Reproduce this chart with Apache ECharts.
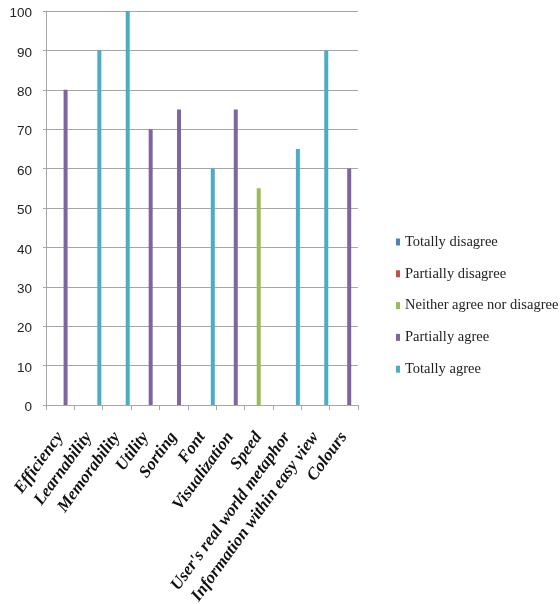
<!DOCTYPE html>
<html>
<head>
<meta charset="utf-8">
<script src="https://cdn.jsdelivr.net/npm/echarts@6/dist/echarts.min.js"></script>
<style>
html,body{margin:0;padding:0;background:#fff;}
#chart{width:560px;height:604px;}
</style>
</head>
<body>
<div id="chart"></div>
<script>
const categories = ["Efficiency", "Learnability", "Memorability", "Utility", "Sorting", "Font", "Visualization", "Speed", "User's real world metaphor", "Information within easy view", "Colours"];
const seriesNames = ["Totally disagree", "Partially disagree", "Neither agree nor disagree", "Partially agree", "Totally agree"];
const totallyDisagree   = [0, 0, 0, 0, 0, 0, 0, 0, 0, 0, 0];
const partiallyDisagree = [0, 0, 0, 0, 0, 0, 0, 0, 0, 0, 0];
const neitherAgree      = [0, 0, 0, 0, 0, 0, 0, 55, 0, 0, 0];
const partiallyAgree    = [80, 0, 0, 70, 75, 0, 75, 0, 0, 0, 60];
const totallyAgree      = [0, 90, 100, 0, 0, 60, 0, 0, 65, 90, 0];
const yTicks = [0, 10, 20, 30, 40, 50, 60, 70, 80, 90, 100];

const colors = ["#4F81BD", "#C0504D", "#9BBB59", "#8064A2", "#4BACC6"];
const allData = [totallyDisagree, partiallyDisagree, neitherAgree, partiallyAgree, totallyAgree];

const chart = echarts.init(document.getElementById('chart'), null, {renderer: 'canvas'});
chart.setOption({
  animation: false,
  backgroundColor: '#ffffff',
  color: colors,
  grid: {left: 46, right: 202, top: 11, bottom: 199, containLabel: false, outerBoundsMode: 'none'},
  legend: {
    orient: 'vertical',
    left: 391,
    top: 229,
    itemWidth: 4,
    itemHeight: 7,
    itemGap: 15.8,
    itemTextGap: 6,
    icon: 'rect',
    textStyle: {fontFamily: 'Liberation Serif', fontSize: 14.5, color: '#222', lineHeight: 16},
    data: seriesNames
  },
  xAxis: {
    type: 'category',
    data: categories,
    axisLine: {show: true, lineStyle: {color: '#A6A6A6', width: 1}},
    axisTick: {show: true, length: 5, inside: false, lineStyle: {color: '#A6A6A6'}},
    axisLabel: {
      rotate: 54,
      interval: 0,
      margin: 29,
      fontFamily: 'Liberation Serif',
      fontWeight: 'bold',
      fontStyle: 'italic',
      fontSize: 17,
      color: '#111'
    },
    splitLine: {show: false}
  },
  yAxis: {
    type: 'value',
    min: yTicks[0],
    max: yTicks[yTicks.length - 1],
    interval: 10,
    axisLine: {show: true, lineStyle: {color: '#A6A6A6', width: 1}},
    axisTick: {show: true, length: 3, lineStyle: {color: '#A6A6A6'}},
    axisLabel: {
      margin: 14,
      fontFamily: 'Liberation Sans',
      fontSize: 13.5,
      color: '#222',
      verticalAlign: 'top',
      lineHeight: 5
    },
    splitLine: {show: true, lineStyle: {color: '#A6A6A6', width: 1}}
  },
  series: seriesNames.map((name, i) => ({
    name: name,
    type: 'bar',
    data: allData[i],
    barWidth: 4,
    barGap: '35%',
    itemStyle: {color: colors[i]}
  }))
});
</script>
</body>
</html>
